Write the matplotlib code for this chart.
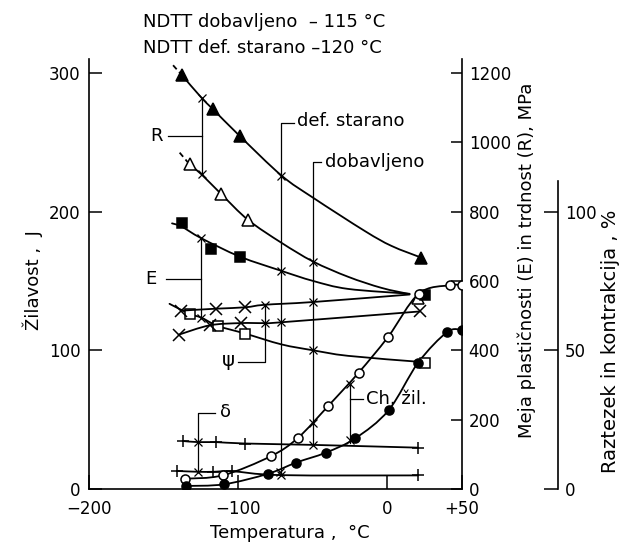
import matplotlib
matplotlib.use("Agg")
import matplotlib.pyplot as plt
from matplotlib.path import Path
from matplotlib.patches import PathPatch
import numpy as np

# ---- data (temperature in degC) ----
# R, def. starano (filled triangles), MPa
r_ds_t = [-137.6, -116.8, -98.9, 23.0]
r_ds = [1193, 1095, 1018, 667]
r_ds_line_t = [-137.6, -124.5, -116.8, -98.9, -70.9, -49.7, -15.0, 2.9, 23.0]
r_ds_line = [1193, 1128, 1095, 1018, 904, 840, 744, 701, 667]
r_ds_lead_t = [-143.6, -137.6]
r_ds_lead = [1222, 1193]
r_ds_tick_t = [-124.5, -70.9]
r_ds_tick = [1128, 904]

# R, dobavljeno (open triangles), MPa
r_do_t = [-132.5, -111.2, -93.3, 20.5]
r_do = [936, 850, 776, 552]
r_do_line_t = [-132.5, -124.5, -111.2, -93.3, -70.9, -49.7, -26.2, -3.8, 15.0]
r_do_line = [936, 907, 850, 776, 710, 656, 612, 580, 562]
r_do_lead_t = [-139.2, -132.5]
r_do_lead = [970, 936]
r_do_tick_t = [-124.5, -49.7]
r_do_tick = [907, 656]

# E, def. starano (filled squares), MPa
e_ds_t = [-137.4, -118.4, -98.7, 25.6]
e_ds = [766, 691, 670, 559]
e_ds_line_t = [-144.3, -138.0, -124.6, -98.7, -70.9, -49.7, -26.2, 15.0]
e_ds_line = [766, 757, 723, 670, 629, 600, 577, 563]
e_ds_tick_t = [-124.6, -70.9]
e_ds_tick = [723, 629]

# E, dobavljeno (open squares), MPa
e_do_t = [-132.5, -113.4, -95.1, 25.2]
e_do = [505, 470, 448, 364]
e_do_line_t = [-146.0, -132.5, -124.6, -113.4, -95.1, -70.9, -49.7, -26.2, 20.8]
e_do_line = [534, 505, 494, 470, 448, 417, 400, 384, 367]
e_do_tick_t = [-124.6, -49.7]
e_do_tick = [494, 400]

# psi, contraction, %
psi_a_t = [-138.0, -114.6, -95.1]
psi_a = [64.3, 65.0, 65.5]
psi_a_line_t = [-138.0, -114.6, -95.1, -82.2, -49.7, 15.0]
psi_a_line = [64.3, 65.0, 65.5, 66.4, 67.4, 70.1]
psi_a_tick_t = [-82.2, -49.7]
psi_a_tick = [66.4, 67.4]

psi_b_t = [-139.9, -119.0, -98.3, 21.9]
psi_b = [55.6, 59.0, 59.8, 64.0]
psi_b_line_t = [-139.9, -119.0, -98.3, -82.2, -70.9, 21.9]
psi_b_line = [55.6, 59.0, 59.8, 59.8, 60.1, 64.0]
psi_b_tick_t = [-82.2, -70.9]
psi_b_tick = [59.8, 60.1]

# delta, elongation, %
d_up_t = [-137.1, -114.6, -95.6, 20.8]
d_up = [17.3, 16.9, 16.4, 14.9]
d_up_line_t = [-137.1, -126.8, -114.6, -95.6, -49.7, 20.8]
d_up_line = [17.3, 16.9, 16.9, 16.4, 15.9, 14.9]
d_up_tick_t = [-126.8, -49.7]
d_up_tick = [16.9, 15.9]

d_lo_t = [-140.7, -116.8, -104.0, 20.8]
d_lo = [6.5, 6.2, 6.4, 4.9]
d_lo_line_t = [-140.7, -126.8, -116.8, -104.0, -70.9, 20.8]
d_lo_line = [6.5, 6.2, 6.2, 6.4, 5.0, 4.9]
d_lo_tick_t = [-126.8, -70.9]
d_lo_tick = [6.2, 5.0]

# Charpy toughness, J
ch_o_t = [-135.8, -110.1, -78.1, -59.9, -39.6, -19.1, 0.7, 21.2, 42.0, 50.0]
ch_o = [7.4, 9.9, 23.6, 36.8, 59.8, 83.9, 109.8, 140.8, 146.9, 146.9]
ch_o_tick_t = [-49.7, -25.1]
ch_o_tick = [47.5, 76.0]

ch_f_t = [-134.7, -109.4, -79.9, -60.9, -41.2, -21.3, 0.9, 20.8, 40.3, 50.0]
ch_f = [2.2, 3.4, 11.0, 19.1, 26.2, 36.6, 56.7, 91.1, 113.2, 114.6]
ch_f_tick_t = [-72.1, -25.1]
ch_f_tick = [12.5, 35.0]

x_ticks = [-200, -100, 0, 50]
x_labels = ["\u2212200", "\u2212100", "0", "+50"]
j_ticks = [0, 100, 200, 300]
mpa_ticks = [0, 200, 400, 600, 800, 1000, 1200]
pct_ticks = [0, 50, 100]

plt.rcParams["font.family"] = ["DejaVu Sans"]
FS = 12
LFS = 13
LW = 1.3
K = "black"

fig = plt.figure(figsize=(6.23, 5.5), dpi=100)
ax = fig.add_axes([89 / 623, 61 / 550, 372.7 / 623, 430 / 550])
ax.set_xlim(-200, 50)
ax.set_ylim(0, 310)
ax2 = ax.twinx()
ax2.set_ylim(0, 1240)
ax3 = ax.twinx()
ax3.set_ylim(0, 155)
ax3.spines["right"].set_position(("axes", 469 / 372.7))
ax3.spines["right"].set_bounds(0, 111)

for a in (ax, ax2, ax3):
    a.patch.set_visible(False)
    a.spines["top"].set_visible(False)
    for s in a.spines.values():
        s.set_linewidth(1.2)
ax.spines["right"].set_visible(False)
for a in (ax2, ax3):
    a.spines["left"].set_visible(False)
    a.spines["bottom"].set_visible(False)

ax.set_xticks(x_ticks)
ax.set_xticklabels(x_labels)
ax.set_yticks(j_ticks)
ax.tick_params(axis="both", direction="in", length=9, width=1.1, labelsize=FS, pad=6)
ax.tick_params(axis="x", length=10, pad=8)
ax2.set_yticks(mpa_ticks)
ax2.tick_params(axis="y", direction="in", length=8, width=1.1, labelsize=FS, pad=5)
ax3.set_yticks(pct_ticks)
ax3.tick_params(axis="y", direction="in", length=10, width=1.1, labelsize=FS, pad=5)


def smooth_line(a, t, v):
    # Catmull-Rom curve through the read points, drawn as cubic Bezier path
    p = np.column_stack([t, v]).astype(float)
    n = len(p)
    ext = np.vstack([p[0], p, p[-1]])
    verts = [p[0]]
    codes = [Path.MOVETO]
    for i in range(n - 1):
        p0, p1, p2, p3 = ext[i], ext[i + 1], ext[i + 2], ext[i + 3]
        verts += [p1 + (p2 - p0) / 6, p2 - (p3 - p1) / 6, p2]
        codes += [Path.CURVE4] * 3
    a.add_patch(PathPatch(Path(verts, codes), fill=False, ec=K, lw=LW, zorder=2,
                          capstyle="round", joinstyle="round"))


def marks(a, t, v, marker, filled, ms=7):
    a.plot(t, v, ls="none", marker=marker, ms=ms, mec=K, mew=1.1,
           mfc=K if filled else "white", zorder=4)


def ticks(a, t, v):
    a.plot(t, v, ls="none", marker="x", ms=6, mec=K, mew=0.9, zorder=3)


# strength R
ax2.plot(r_ds_lead_t, r_ds_lead, color=K, lw=LW, ls=(0, (3, 2)))
smooth_line(ax2, r_ds_line_t, r_ds_line)
marks(ax2, r_ds_t, r_ds, "^", True, 8.5)
ticks(ax2, r_ds_tick_t, r_ds_tick)
ax2.plot(r_do_lead_t, r_do_lead, color=K, lw=LW, ls=(0, (3, 2)))
smooth_line(ax2, r_do_line_t, r_do_line)
marks(ax2, r_do_t, r_do, "^", False, 8.5)
ticks(ax2, r_do_tick_t, r_do_tick)
# yield E
smooth_line(ax2, e_ds_line_t, e_ds_line)
marks(ax2, e_ds_t, e_ds, "s", True, 6.5)
ticks(ax2, e_ds_tick_t, e_ds_tick)
smooth_line(ax2, e_do_line_t, e_do_line)
marks(ax2, e_do_t, e_do, "s", False, 6.5)
ticks(ax2, e_do_tick_t, e_do_tick)
# psi
for lt, lv, mt, mv, tt, tv in [
    (psi_a_line_t, psi_a_line, psi_a_t, psi_a, psi_a_tick_t, psi_a_tick),
    (psi_b_line_t, psi_b_line, psi_b_t, psi_b, psi_b_tick_t, psi_b_tick),
]:
    smooth_line(ax3, lt, lv)
    marks(ax3, mt, mv, "x", False, 8)
    ticks(ax3, tt, tv)
# delta
for lt, lv, mt, mv, tt, tv in [
    (d_up_line_t, d_up_line, d_up_t, d_up, d_up_tick_t, d_up_tick),
    (d_lo_line_t, d_lo_line, d_lo_t, d_lo, d_lo_tick_t, d_lo_tick),
]:
    smooth_line(ax3, lt, lv)
    marks(ax3, mt, mv, "+", False, 8)
    ticks(ax3, tt, tv)
# Charpy
smooth_line(ax, ch_o_t, ch_o)
smooth_line(ax, ch_f_t, ch_f)
ticks(ax, ch_o_tick_t, ch_o_tick)
ticks(ax, ch_f_tick_t, ch_f_tick)
# draw the circles on the top axes so they cover the other lines
marks(ax3, ch_o_t, [v / 2 for v in ch_o], "o", False, 6.5)
marks(ax3, ch_f_t, [v / 2 for v in ch_f], "o", True, 6.5)

# leader lines and labels (in degC / J)
ll = dict(color=K, lw=0.9, zorder=1)
ax.plot([-70.9, -70.9, -62.2], [10.6, 264.1, 264.1], **ll)
ax.text(-60.5, 265.3, "def. starano", fontsize=LFS, va="center", ha="left")
ax.plot([-49.7, -49.7, -44.1], [33.4, 236.0, 236.0], **ll)
ax.text(-42.0, 236.0, "dobavljeno", fontsize=LFS, va="center", ha="left")
ax.plot([-147.0, -124.5], [254.5, 254.5], **ll)
ax.plot([-124.5, -124.5], [282.0, 226.9], **ll)
ax.text(-154.8, 254.5, "R", fontsize=LFS, va="center", ha="center")
ax.plot([-148.1, -124.6], [151.6, 151.6], **ll)
ax.plot([-124.6, -124.6], [180.7, 123.5], **ll)
ax.text(-158.2, 151.6, "E", fontsize=LFS, va="center", ha="center")
ax.plot([-100.0, -82.2, -82.2], [91.8, 91.8, 133.2], **ll)
ax.text(-106.7, 93.0, "\u03c8", fontsize=LFS + 1, va="center", ha="center")
ax.plot([-126.8, -126.8, -115.7], [12.5, 55.0, 55.0], **ll)
ax.text(-108.5, 55.5, "\u03b4", fontsize=LFS, va="center", ha="center")
ax.plot([-25.1, -25.1], [33.4, 76.0], **ll)
ax.plot([-25.1, -16.1], [64.7, 64.7], **ll)
ax.text(-14.5, 64.7, "Ch. \u017eil.", fontsize=LFS, va="center", ha="left")

fig.text(143 / 623, 1 - 22 / 550, "NDTT dobavljeno  \u2013 115 \u00b0C", fontsize=LFS, va="center")
fig.text(143 / 623, 1 - 48 / 550, "NDTT def. starano \u2013120 \u00b0C", fontsize=LFS, va="center")
fig.text(33 / 623, 1 - 280 / 550, "\u017dilavost ,  J", fontsize=LFS, rotation=90, ha="center", va="center")
fig.text(290 / 623, 1 - 533 / 550, "Temperatura ,  \u00b0C", fontsize=LFS, ha="center", va="center")
fig.text(527 / 623, 1 - 260 / 550, "Meja plasti\u010dnosti (E) in trdnost (R), MPa", fontsize=LFS,
         rotation=90, ha="center", va="center")
fig.text(611 / 623, 1 - 341 / 550, "Raztezek in kontrakcija , %", fontsize=LFS + 1,
         rotation=90, ha="center", va="center")

fig.savefig("out.png", dpi=100)
